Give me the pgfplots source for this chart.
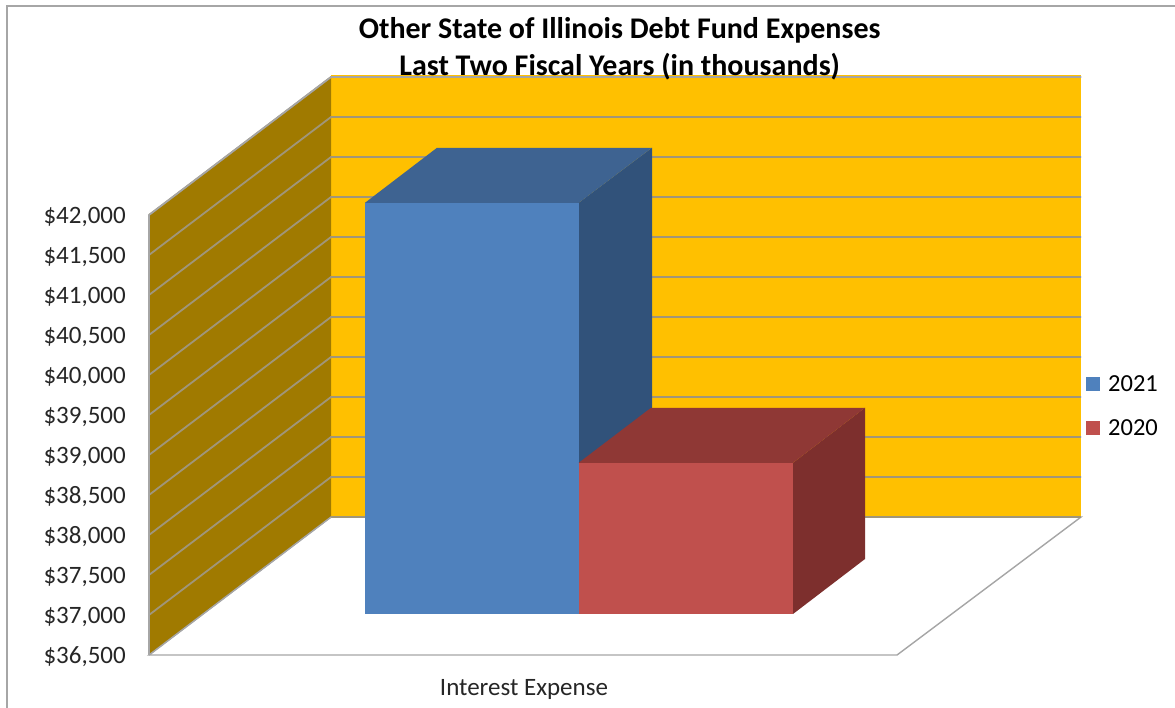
\documentclass[border=0pt]{standalone}
\usepackage{pgfplots}
\usepackage{pgfplotstable}
\pgfplotsset{compat=1.18}
\usepackage{fontspec}
\setmainfont{Carlito}
\definecolor{wallback}{HTML}{FFC000}
\definecolor{wallside}{HTML}{A07A00}
\definecolor{gridgrey}{HTML}{A0967A}
\definecolor{rimgrey}{HTML}{A6A6A6}
\definecolor{blueface}{HTML}{4F81BD}
\definecolor{bluetop}{HTML}{3E6391}
\definecolor{blueside}{HTML}{31527A}
\definecolor{redface}{HTML}{C0504D}
\definecolor{redtop}{HTML}{8F3835}
\definecolor{redside}{HTML}{7D2F2D}
% Depth column d lifts a point along the floor: 512.5 is the front of the bars,
% 1200 their rear, 1725 the back wall.
\pgfplotstableread{
x v d
365 36500 512.5
578.7 36500 512.5
578.7 41640 512.5
365 41640 512.5
}\bluefront
\pgfplotstableread{
x v d
365 41640 512.5
437 41640 1200
652 41640 1200
578.7 41640 512.5
}\bluetopface
\pgfplotstableread{
x v d
578.7 36500 512.5
652 36500 1200
652 41640 1200
578.7 41640 512.5
}\bluesideface
\pgfplotstableread{
x v d
578.7 36500 512.5
793 36500 512.5
793 38390 512.5
578.7 38390 512.5
}\redfront
\pgfplotstableread{
x v d
578.7 38390 512.5
651 38390 1200
865 38390 1200
793 38390 512.5
}\redtopface
\pgfplotstableread{
x v d
793 36500 512.5
865 36500 1200
865 38390 1200
793 38390 512.5
}\redsideface
\newcommand{\wallline}[1]{%
  \addplot[forget plot,gridgrey,line width=1.8pt] table[row sep=\\,x=x,y expr=\thisrow{v}+\thisrow{d}] {
x v d\\
149 #1 0\\
331 #1 1725\\
1081 #1 1725\\
};}
\newcommand{\barface}[2]{%
  \addplot[forget plot,fill=#1,draw=none] table[x=x,y expr=\thisrow{v}+\thisrow{d}] {#2} -- cycle;}
\begin{document}
\begin{tikzpicture}
\path[use as bounding box] (-149pt,-53pt) rectangle (1026pt,655pt);
\fill[white] (-149pt,-53pt) rectangle (1026pt,655pt);
% window frame on the left and the top
\draw[rimgrey,line width=1.6pt] (-142pt,-53pt) -- (-142pt,649pt) -- (1026pt,649pt);
\begin{axis}[
  scale only axis,
  width=932pt,height=440pt,
  xmin=149,xmax=1081,
  ymin=36500,ymax=42000,
  clip=false,
  scaled y ticks=false,
  axis line style={draw=none},
  major tick length=0pt,
  xtick={524},
  xticklabels={Interest Expense},
  x tick label style={font=\fontsize{25}{29}\selectfont,inner sep=0pt,anchor=north,yshift=-24pt,text=black!85},
  ytick={36500,37000,37500,38000,38500,39000,39500,40000,40500,41000,41500,42000},
  yticklabels={{\$36,500},{\$37,000},{\$37,500},{\$38,000},{\$38,500},{\$39,000},{\$39,500},{\$40,000},{\$40,500},{\$41,000},{\$41,500},{\$42,000}},
  y tick label style={font=\fontsize{25}{29}\selectfont,inner sep=0pt,anchor=east,xshift=-23pt,yshift=-2pt,text=black!85},
  title={Other State of Illinois Debt Fund Expenses\\Last Two Fiscal Years (in thousands)},
  title style={at={(0.505,1)},anchor=south,yshift=129pt,inner sep=0pt,align=center,font=\bfseries\fontsize{30}{37}\selectfont},
  legend cell align=left,
  legend style={at={(axis cs:1086,39612)},anchor=west,draw=none,fill=none,inner sep=0pt,
    font=\fontsize{24.5}{28}\selectfont,row sep=25pt,nodes={inner sep=1pt},
    /tikz/every odd column/.append style={column sep=7pt}},
  legend image code/.code={\fill[#1] (0pt,-7pt) rectangle (14pt,7pt);},
]
% floor
\addplot[forget plot,fill=white,draw=rimgrey,line width=1.4pt] coordinates {(149,36500) (897,36500) (1081,38225) (331,38225)} -- cycle;
% back wall
\addplot[forget plot,fill=wallback,draw=none] coordinates {(331,38225) (1081,38225) (1081,43750) (331,43750)} -- cycle;
% side wall
\addplot[forget plot,fill=wallside,draw=none] coordinates {(149,36500) (331,38225) (331,43725) (149,42000)} -- cycle;
\wallline{37000}\wallline{37500}\wallline{38000}\wallline{38500}\wallline{39000}\wallline{39500}
\wallline{40000}\wallline{40500}\wallline{41000}\wallline{41500}\wallline{42000}
% outer edges of the walls
\addplot[forget plot,rimgrey,line width=1.6pt] coordinates {(149,36500) (149,42000) (331,43725) (1081,43725)};
\addplot[forget plot,gridgrey,line width=1.8pt] coordinates {(331,38225) (1081,38225)};
\addplot[forget plot,rimgrey,line width=1.4pt] coordinates {(149,36500) (331,38225)};
% the blue bar goes first, the red one stands in front of its side
\barface{blueside}{\bluesideface}
\barface{bluetop}{\bluetopface}
\barface{blueface}{\bluefront}
\barface{redside}{\redsideface}
\barface{redtop}{\redtopface}
\barface{redface}{\redfront}
\addlegendimage{draw=none,fill=blueface}
\addlegendentry{2021}
\addlegendimage{draw=none,fill=redface}
\addlegendentry{2020}
\end{axis}
\end{tikzpicture}
\end{document}
